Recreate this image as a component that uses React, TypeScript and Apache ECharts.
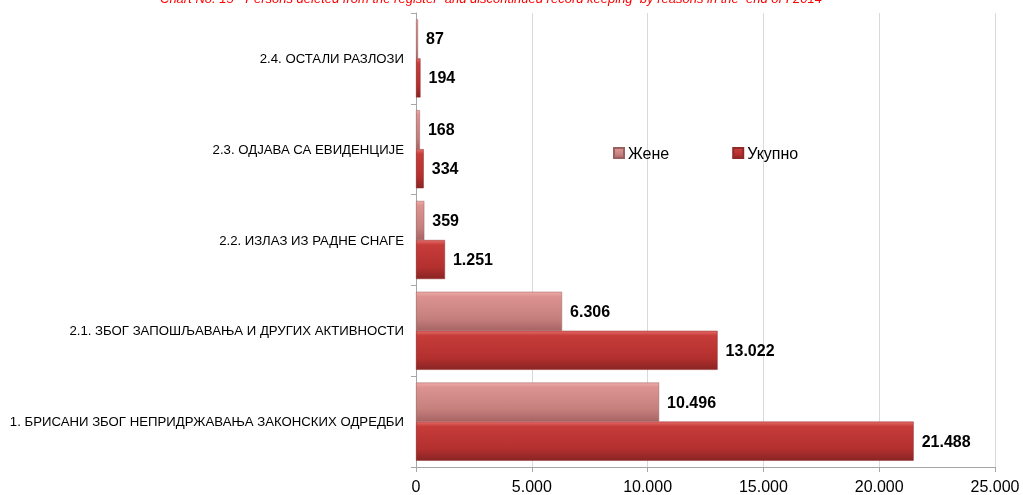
import React, { useEffect, useRef } from "react";
import * as echarts from "echarts";

const categories = [
  "1. БРИСАНИ ЗБОГ НЕПРИДРЖАВАЊА ЗАКОНСКИХ ОДРЕДБИ",
  "2.1. ЗБОГ ЗАПОШЉАВАЊА И ДРУГИХ АКТИВНОСТИ",
  "2.2. ИЗЛАЗ ИЗ РАДНЕ СНАГЕ",
  "2.3. ОДЈАВА СА ЕВИДЕНЦИЈЕ",
  "2.4. ОСТАЛИ РАЗЛОЗИ",
];
const totalValues = [21488, 13022, 1251, 334, 194];
const womenValues = [10496, 6306, 359, 168, 87];
const seriesNames = ["Жене", "Укупно"];
const titleText =
  "Chart No. 15 - Persons deleted from the register  and discontinued record keeping  by reasons in the  end of I 2014";

const fmt = (v: number) => String(Math.round(v)).replace(/\B(?=(\d{3})+(?!\d))/g, ".");

export default function App() {
  const ref = useRef<HTMLDivElement>(null);
  useEffect(() => {
    if (!ref.current) return;
    const chart = echarts.init(ref.current, null, { renderer: "svg" });
    const totalGrad = new echarts.graphic.LinearGradient(0, 0, 0, 1, [
      { offset: 0, color: "#e46a66" },
      { offset: 0.12, color: "#c63c3a" },
      { offset: 0.7, color: "#b3302f" },
      { offset: 1, color: "#8a2424" },
    ]);
    const womenGrad = new echarts.graphic.LinearGradient(0, 0, 0, 1, [
      { offset: 0, color: "#eeaaa8" },
      { offset: 0.12, color: "#dc9390" },
      { offset: 0.7, color: "#c47f7d" },
      { offset: 1, color: "#a86463" },
    ]);
    const labelStyle = {
      show: true,
      position: "right" as const,
      distance: 8,
      fontFamily: "Arial, Liberation Sans",
      fontWeight: "bold" as const,
      fontSize: 16,
      color: "#000",
      formatter: (p: any) => fmt(p.value),
    };
    chart.setOption({
      animation: false,
      textStyle: { fontFamily: "Arial, Liberation Sans" },
      graphic: [
        {
          type: "text",
          left: 160,
          top: -8,
          style: {
            text: titleText,
            fill: "#ff0000",
            fontSize: 13,
            fontStyle: "italic",
            fontFamily: "Arial, Liberation Sans",
          },
        },
      ],
      legend: {
        data: seriesNames,
        left: 608,
        top: 140,
        itemWidth: 10,
        itemHeight: 10,
        itemGap: 63,
        icon: "rect",
        textStyle: { fontSize: 16, color: "#000", fontFamily: "Arial, Liberation Sans", padding: [0, 0, 0, -1] },
      },
      grid: { left: 416, right: 28, top: 13, bottom: 28, containLabel: false },
      xAxis: {
        type: "value",
        min: 0,
        max: 25000,
        interval: 5000,
        axisLine: { show: true, lineStyle: { color: "#a6a6a6" } },
        axisTick: { show: true, length: 5, lineStyle: { color: "#a6a6a6" } },
        splitLine: { show: true, lineStyle: { color: "#d9d9d9" } },
        axisLabel: { fontSize: 16, color: "#000", margin: 11, formatter: (v: number) => fmt(v) },
      },
      yAxis: {
        type: "category",
        data: categories,
        axisLine: { show: true, lineStyle: { color: "#a6a6a6" } },
        axisTick: { show: true, length: 5, lineStyle: { color: "#a6a6a6" } },
        axisLabel: { fontSize: 13.2, color: "#000", margin: 12 },
      },
      series: [
        {
          name: "Жене",
          type: "bar",
          data: womenValues,
          barGap: "0%",
          barCategoryGap: "14%",
          itemStyle: { color: womenGrad, borderColor: "#9a6060", borderWidth: 0.5 },
          label: labelStyle,
        },
        {
          name: "Укупно",
          type: "bar",
          data: totalValues,
          barGap: "0%",
          barCategoryGap: "14%",
          itemStyle: { color: totalGrad, borderColor: "#8e2a2a", borderWidth: 0.5 },
          label: labelStyle,
        },
      ],
    });
    return () => chart.dispose();
  }, []);
  return <div ref={ref} style={{ position: "fixed", left: 0, top: 0, width: 1023, height: 495 }} />;
}
